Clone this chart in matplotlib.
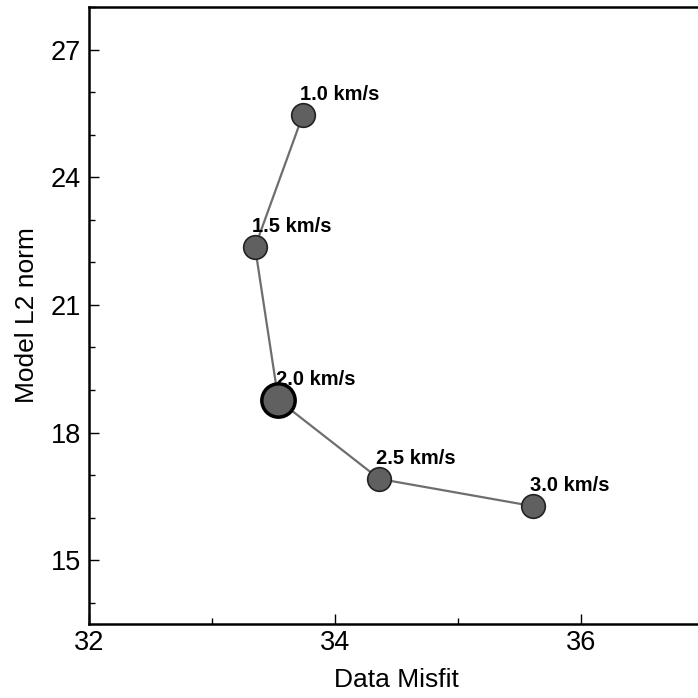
import matplotlib.pyplot as plt
from matplotlib.ticker import MultipleLocator

plt.rcParams['font.family'] = ['Liberation Sans', 'DejaVu Sans']

# L-curve points: data misfit vs model norm for each velocity
labels = ["1.0 km/s", "1.5 km/s", "2.0 km/s", "2.5 km/s", "3.0 km/s"]
misfit = [33.74, 33.35, 33.54, 34.36, 35.61]
model_norm = [25.47, 22.36, 18.76, 16.91, 16.27]
chosen = "2.0 km/s"

fig = plt.figure(figsize=(6.98, 6.98), dpi=100)
ax = fig.add_axes([0.1275, 0.106, 0.881, 0.884])

ax.plot(misfit, model_norm, color="#6e6e6e", lw=1.6, zorder=1)
for lab, x, y in zip(labels, misfit, model_norm):
    if lab == chosen:
        ax.plot(x, y, "o", ms=24, mfc="#606060", mec="black", mew=2.5, zorder=3)
    else:
        ax.plot(x, y, "o", ms=17, mfc="#606060", mec="#222222", mew=1.2, zorder=2)
    ax.annotate(lab, (x, y), xytext=(-2, 8), textcoords="offset points",
                fontsize=14.5, fontweight="bold", ha="left", va="bottom", zorder=4)

ax.set_xlim(32, 37)
ax.set_ylim(13.5, 28)
ax.xaxis.set_major_locator(MultipleLocator(2))
ax.xaxis.set_minor_locator(MultipleLocator(1))
ax.yaxis.set_major_locator(MultipleLocator(3))
ax.yaxis.set_minor_locator(MultipleLocator(1))
ax.tick_params(which="both", direction="in", top=False, right=False, labelsize=19.5)
ax.tick_params(axis="y", which="both", pad=6)
ax.tick_params(axis="x", which="both", pad=4)
ax.tick_params(which="major", length=7, width=1)
ax.tick_params(which="minor", length=4, width=1)
for s in ax.spines.values():
    s.set_linewidth(1.8)

ax.set_xlabel("Data Misfit", fontsize=19, labelpad=9)
ax.set_ylabel("Model L2 norm", fontsize=19, labelpad=8)

fig.savefig("out.png", dpi=100)
